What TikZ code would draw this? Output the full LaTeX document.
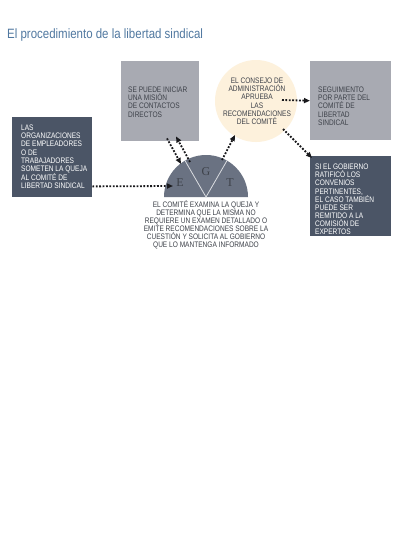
\documentclass[tikz,border=0pt]{standalone}
\usepackage{fontspec}
\setmainfont[FakeStretch=0.82]{Liberation Sans}
\newfontfamily\titlefont[FakeStretch=0.85]{Liberation Sans}
\newfontfamily\letterfont{Liberation Serif}
\usetikzlibrary{arrows.meta, positioning, calc}
\definecolor{oitBlue}{RGB}{80, 120, 160}
\definecolor{oitDark}{RGB}{75, 85, 102}
\definecolor{oitGrey}{RGB}{168, 170, 178}
\definecolor{oitCream}{RGB}{253, 241, 220}
\definecolor{oitSlate}{RGB}{106, 114, 130}
\definecolor{oitInk}{RGB}{62, 66, 74}
\definecolor{oitArrow}{RGB}{25, 25, 28}

\begin{document}
\begin{tikzpicture}[x=1pt, y=-1pt,
    darkbox/.style={fill=oitDark, anchor=north west, minimum width=80pt, minimum height=80pt, inner sep=0pt},
    greybox/.style={fill=oitGrey, anchor=north west, minimum width=78pt, minimum height=80pt, inner sep=0pt},
    boxtext/.style={anchor=north west, align=left, inner sep=0pt, font=\fontsize{8}{8.1}\selectfont},
    letter/.style={text=oitInk, font=\letterfont\fontsize{12}{12}\selectfont, inner sep=0pt},
    dotarrow/.style={-{Triangle[length=6pt, width=5pt]}, line width=1.8pt, dash pattern=on 1.8pt off 1.6pt, oitArrow}]
                % Page
                \fill[white] (0,0) rectangle (400,538);
                \useasboundingbox (0,0) rectangle (400,538);

                % Title
                \node[anchor=base west, inner sep=0pt, text=oitBlue, font=\titlefont\fontsize{13.5}{16}\selectfont] (title) at (7,38.5) {El procedimiento de la libertad sindical};

                % Boxes
                \node[darkbox] (queja) at (12,117) {};
                \node[greybox] (mision) at (121,61) {};
                \node[circle, fill=oitCream, minimum size=82pt, inner sep=0pt] (consejo) at (256,101) {};
                \node[greybox, minimum width=81pt, minimum height=79pt] (seguimiento) at (310,61) {};
                \node[darkbox, minimum width=81pt] (ratifica) at (310,156) {};

                % Committee
                \coordinate (comite) at (206,197);
                \fill[oitSlate] ($(comite)+(-42,0)$) arc[start angle=180, end angle=360, radius=42] -- cycle;
                \draw[white!75!oitSlate, line width=0.8pt] ($(comite)+(240:42)$) -- (comite) -- ($(comite)+(300:42)$);
                \node[letter] (E) at ($(comite)+(-26,-14)$) {E};
                \node[letter] (G) at ($(comite)+(0,-25)$) {G};
                \node[letter] (T) at ($(comite)+(24,-14)$) {T};

                % Texts
                \node[boxtext, text=white] (quejatext) at ($(queja.north west)+(9,8)$) {LAS\\ORGANIZACIONES\\DE EMPLEADORES\\O DE\\TRABAJADORES\\SOMETEN LA QUEJA\\AL COMITÉ DE\\LIBERTAD SINDICAL};
                \node[boxtext, text=oitInk] (misiontext) at ($(mision.north west)+(7,26)$) {SE PUEDE INICIAR\\UNA MISIÓN\\DE CONTACTOS\\DIRECTOS};
                \node[boxtext, text=oitInk, anchor=north, align=center] (consejotext) at ($(consejo.center)+(1,-23)$) {EL CONSEJO DE\\ADMINISTRACIÓN\\APRUEBA\\LAS\\RECOMENDACIONES\\DEL COMITÉ};
                \node[boxtext, text=oitInk] (seguimientotext) at ($(seguimiento.north west)+(8,26)$) {SEGUIMIENTO\\POR PARTE DEL\\COMITÉ DE\\LIBERTAD\\SINDICAL};
                \node[boxtext, text=white] (ratificatext) at ($(ratifica.north west)+(5,8)$) {SI EL GOBIERNO\\RATIFICÓ LOS\\CONVENIOS\\PERTINENTES,\\EL CASO TAMBIÉN\\PUEDE SER\\REMITIDO A LA\\COMISIÓN DE\\EXPERTOS};
                \node[boxtext, text=oitInk, anchor=north, align=center] (comitetext) at ($(comite)+(0,3)$) {EL COMITÉ EXAMINA LA QUEJA Y\\DETERMINA QUE LA MISMA NO\\REQUIERE UN EXAMEN DETALLADO O\\EMITE RECOMENDACIONES SOBRE LA\\CUESTIÓN Y SOLICITA AL GOBIERNO\\QUE LO MANTENGA INFORMADO};

                % Arrows
                \draw[dotarrow] ($(queja.south east)+(0,-11)$) -- ($(comite)+(-33,-11)$);
                \draw[dotarrow] ($(mision.south west)+(46,-3)$) -- ($(comite)+(-25,-33)$);
                \draw[dotarrow] ($(comite)+(-16,-35)$) -- ($(mision.south west)+(55,-5)$);
                \draw[dotarrow] ($(comite)+(16,-37)$) -- ($(consejo)+(-21,34)$);
                \draw[dotarrow] ($(consejo)+(26,-1)$) -- (seguimiento.west);
                \draw[dotarrow] ($(consejo)+(27,28)$) -- ($(ratifica.north west)+(2,2)$);
            \end{tikzpicture}
\end{document}
